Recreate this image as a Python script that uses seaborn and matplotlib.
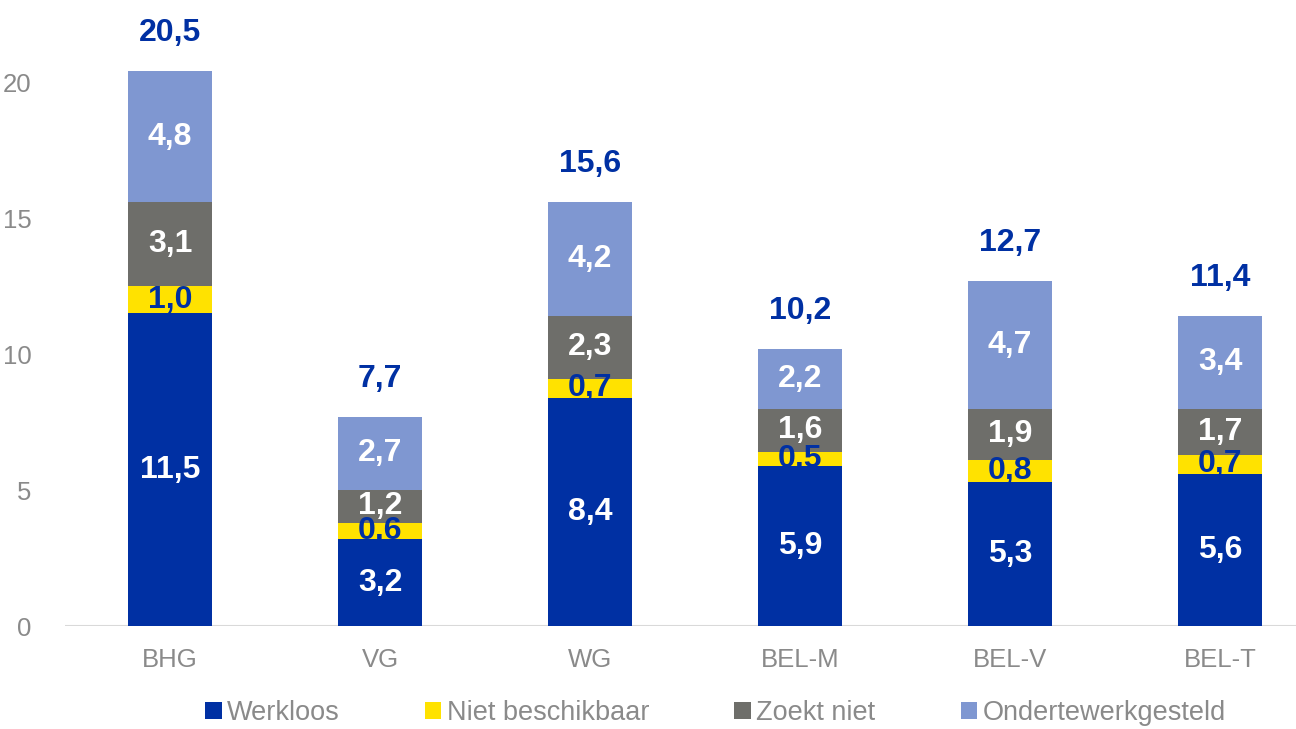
import numpy as np
import seaborn as sns
from matplotlib import pyplot as plt
from matplotlib.patches import Patch

# data
regions = ["BHG", "VG", "WG", "BEL-M", "BEL-V", "BEL-T"]
werkloos = [11.5, 3.2, 8.4, 5.9, 5.3, 5.6]
niet_beschikbaar = [1.0, 0.6, 0.7, 0.5, 0.8, 0.7]
zoekt_niet = [3.1, 1.2, 2.3, 1.6, 1.9, 1.7]
ondertewerkgesteld = [4.8, 2.7, 4.2, 2.2, 4.7, 3.4]
totals = [20.5, 7.7, 15.6, 10.2, 12.7, 11.4]

series_names = ["Werkloos", "Niet beschikbaar", "Zoekt niet", "Ondertewerkgesteld"]
series = [werkloos, niet_beschikbaar, zoekt_niet, ondertewerkgesteld]
colors = ["#0030A3", "#FFE200", "#6E6E6A", "#7F97D1"]
label_colors = ["white", "#0030A3", "white", "white"]
dark_blue = "#0030A3"
grey_text = "#8A8A8A"

sns.set_style("white")
plt.rcParams["font.family"] = ["Liberation Sans", "DejaVu Sans"]

fig = plt.figure(figsize=(12.96, 7.29), dpi=100)
ax = fig.add_axes([65 / 1296, 1 - 626 / 729, 1260 / 1296, 598 / 729])

bottom = np.zeros(len(regions))
for name, vals, col, lcol in zip(series_names, series, colors, label_colors):
    vals = np.array(vals)
    sns.barplot(x=regions, y=vals, bottom=bottom, color=col, width=0.4,
                saturation=1, ax=ax, linewidth=0)
    # value labels in the middle of each segment
    for i, v in enumerate(vals):
        ax.text(i, bottom[i] + v / 2, f"{v:.1f}".replace(".", ","),
                ha="center", va="center", color=lcol, fontsize=23,
                fontweight="bold")
    bottom += vals

# totals above the stacks
for i, t in enumerate(totals):
    ax.text(i, bottom[i] + 0.85, f"{t:.1f}".replace(".", ","), ha="center",
            va="bottom", color=dark_blue, fontsize=23, fontweight="bold",
            clip_on=False)

ax.set_xlim(-0.5, 5.5)
ax.set_ylim(0, 22)
ax.set_yticks([0, 5, 10, 15, 20])
ax.tick_params(axis="both", length=0, labelsize=18.5, labelcolor=grey_text)
ax.tick_params(axis="x", pad=16)
ax.tick_params(axis="y", pad=24)
sns.despine(ax=ax, left=True, top=True, right=True, bottom=True)
ax.axhline(0, color="#D9D9D9", linewidth=1.5, zorder=0)
ax.set_xlabel("")
ax.set_ylabel("")

handles = [Patch(facecolor=c, edgecolor="none") for c in colors]
fig.legend(handles, series_names, loc="center", bbox_to_anchor=(0.552, 0.022),
           ncol=4, frameon=False, fontsize=19.5, handlelength=0.6,
           handleheight=0.6, handletextpad=0.2, columnspacing=3.15,
           labelcolor=grey_text)

fig.savefig("out.png", dpi=100)
